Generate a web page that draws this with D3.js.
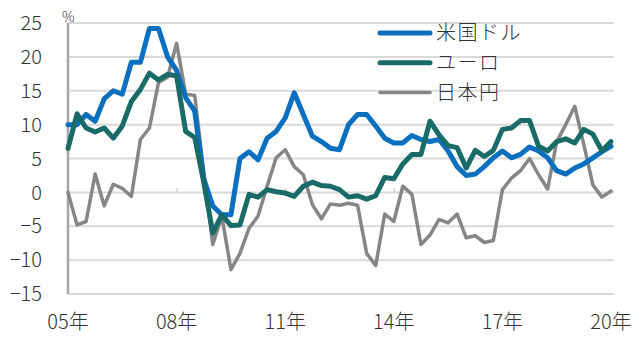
<!DOCTYPE html>
<html>
<head>
<meta charset="utf-8">
<script src="https://cdn.jsdelivr.net/npm/d3@7"></script>
<style>
    body { margin: 0; background: #fff; }
    svg { display: block; }
    text { font-family: "Noto Sans CJK JP", "Noto Sans", sans-serif; font-weight: 300; fill: #333; }
</style>
</head>
<body>
<svg id="chart" width="640" height="339"></svg>
<script>

// quarterly, 2005Q1 .. 2020Q1
var usd = [
    10, 10, 11.5, 10.5, 13.8, 15, 14.5, 19.2, 19.2, 24.2, 24.2, 20, 18, 14, 12,
    2, -2, -3.3, -3.3, 5, 6, 4.8, 8, 9, 11, 14.7, 11.5, 8.3, 7.5, 6.5,
    6.3, 10, 11.5, 11.5, 9.8, 8, 7.3, 7.3, 8.4, 7.8, 7.5, 7.8, 6.1, 3.8, 2.5,
    2.7, 3.8, 5.1, 6.1, 5.1, 5.6, 6.7, 6.1, 5.1, 3.2, 2.7, 3.6, 4.2, 5.1, 6, 6.8
];
var eur = [
    6.5, 11.6, 9.5, 8.9, 9.5, 8, 9.8, 13.4, 15.2, 17.6, 16.6, 17.4, 17.2, 9, 8.1,
    1.5, -6, -3.3, -4.9, -4.8, -0.3, -0.7, 0.4, 0.1, -0.1, -0.6, 0.9, 1.5, 1, 0.9,
    0.4, -0.7, -0.5, -1, -0.5, 2.2, 2, 4.2, 5.6, 5.6, 10.5, 8.5, 6.9, 6.6, 3.6,
    6.2, 5.3, 6.2, 9.3, 9.5, 10.6, 10.6, 6.8, 6.1, 7.5, 7.9, 7.3, 9.3, 8.6, 6.1, 7.5
];
var jpy = [
    0, -4.8, -4.3, 2.7, -2, 1.2, 0.6, -0.6, 7.8, 9.5, 16.2, 17, 22, 14.5, 14.3,
    3, -7.7, -3.5, -11.4, -9, -5.3, -3.5, 0.9, 5.1, 6.3, 3.8, 2.6, -1.8, -3.9, -1.7,
    -1.9, -1.6, -1.9, -9, -10.8, -3.2, -4.3, 0.9, -0.3, -7.7, -6.3, -4, -4.5, -3.2, -6.7,
    -6.4, -7.4, -7.1, 0.4, 2.1, 3.2, 5, 2.6, 0.5, 7.5, 10, 12.7, 7, 1.1, -0.7, 0.2
];

var yTicks = [25, 20, 15, 10, 5, 0, -5, -10, -15];
var xTickIndex = [0, 12, 24, 36, 48, 60];
var xTickLabels = ["05年", "08年", "11年", "14年", "17年", "20年"];

var series = [
    { name: "米国ドル", values: usd, color: "#0a6fbf", width: 5 },
    { name: "ユーロ", values: eur, color: "#1a6a67", width: 5 },
    { name: "日本円", values: jpy, color: "#868686", width: 3.5 }
];

var svg = d3.select("#chart");

var x = d3.scaleLinear().domain([0, 60]).range([68, 611]);
var y = d3.scaleLinear().domain([-15, 25]).range([294, 23]);

// gridlines
svg.append("g")
    .selectAll("line")
    .data(yTicks)
    .enter().append("line")
        .attr("x1", 68)
        .attr("x2", 614)
        .attr("y1", function (d) { return y(d); })
        .attr("y2", function (d) { return y(d); })
        .attr("stroke", "#d9d9d9")
        .attr("stroke-width", 2);

// y labels
svg.append("g")
    .selectAll("text")
    .data(yTicks)
    .enter().append("text")
        .attr("x", 42)
        .attr("y", function (d) { return y(d); })
        .attr("dy", "0.36em")
        .attr("text-anchor", "end")
        .style("font-size", "20px")
        .text(function (d) { return d < 0 ? "\u2212" + Math.abs(d) : d; });

svg.append("text")
    .attr("x", 62)
    .attr("y", 22)
    .style("font-size", "14px")
    .text("%");

// x axis on the zero line, small ticks every 3 years
var xAxis = d3.axisTop(x)
    .tickValues(xTickIndex.slice(1, 5))
    .tickSize(4)
    .tickFormat("");

svg.append("g")
    .attr("transform", "translate(0," + y(0) + ")")
    .call(xAxis)
    .call(function (g) {
        g.select(".domain").remove();
        g.selectAll(".tick line").attr("stroke", "#d0d0d0").attr("stroke-width", 1.5);
    });

svg.append("g")
    .selectAll("text")
    .data(xTickIndex)
    .enter().append("text")
        .attr("x", function (d) { return x(d); })
        .attr("y", 329)
        .attr("text-anchor", "middle")
        .style("font-size", "20px")
        .text(function (d, i) { return xTickLabels[i]; });

// y axis line
svg.append("line")
    .attr("x1", 68)
    .attr("x2", 68)
    .attr("y1", y(25))
    .attr("y2", y(-15))
    .attr("stroke", "#a6a6a6")
    .attr("stroke-width", 2.5);

var line = d3.line()
    .x(function (d, i) { return x(i); })
    .y(function (d) { return y(d); });

// draw gray first so the currencies sit like the reference
var order = [2, 0, 1];
order.forEach(function (k) {
    var s = series[k];
    svg.append("path")
        .datum(s.values)
        .attr("d", line)
        .attr("fill", "none")
        .attr("stroke", s.color)
        .attr("stroke-width", s.width)
        .attr("stroke-linejoin", "round")
        .attr("stroke-linecap", "round");
});

// legend
var legend = svg.append("g");
series.forEach(function (s, i) {
    var ly = 33 + i * 29.7;
    legend.append("line")
        .attr("x1", 380)
        .attr("x2", 430)
        .attr("y1", ly)
        .attr("y2", ly)
        .attr("stroke", s.color)
        .attr("stroke-width", s.width)
        .attr("stroke-linecap", "round");
    legend.append("text")
        .attr("x", 436)
        .attr("y", ly)
        .attr("dy", "0.36em")
        .style("font-size", "20px")
        .style("letter-spacing", "1.5px")
        .text(s.name);
});

</script>
</body>
</html>
